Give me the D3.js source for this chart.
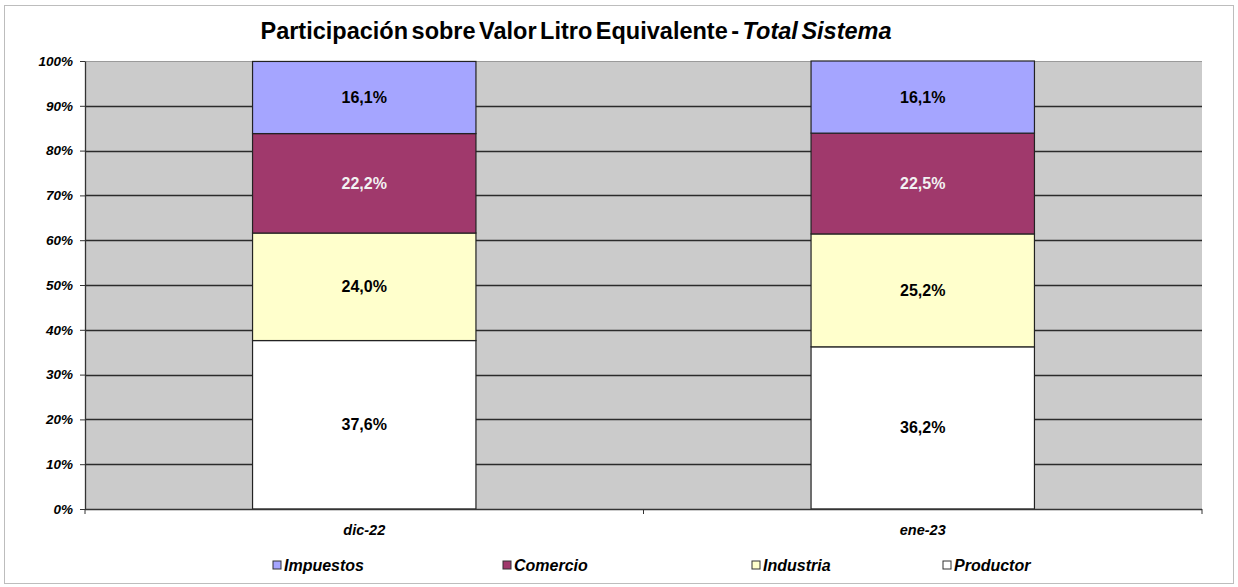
<!DOCTYPE html>
<html>
<head>
<meta charset="utf-8">
<script src="https://cdn.jsdelivr.net/npm/d3@7"></script>
<style>
  body { margin: 0; background: #fff; }
  text { font-family: "Liberation Sans", Arial, sans-serif; }
</style>
</head>
<body>
<div id="chart"></div>
<script>
// data
var categories = ["dic-22", "ene-23"];
var seriesNames = ["Productor", "Industria", "Comercio", "Impuestos"];
var productor = [37.6, 36.2];
var industria = [24.0, 25.2];
var comercio = [22.2, 22.5];
var impuestos = [16.1, 16.1];
var yTicks = [0, 10, 20, 30, 40, 50, 60, 70, 80, 90, 100];
var legendOrder = ["Impuestos", "Comercio", "Industria", "Productor"];

var colors = {Productor: "#ffffff", Industria: "#ffffcc", Comercio: "#a0396c", Impuestos: "#a5a5ff"};
var labelColors = {Productor: "#000", Industria: "#000", Comercio: "#f2f2f2", Impuestos: "#000"};

var W = 1238, H = 587;
var margin = {top: 61, right: 36, bottom: 78, left: 85},
    width = W - margin.left - margin.right,
    height = H - margin.top - margin.bottom;

var svg = d3.select("#chart").append("svg")
    .attr("width", W).attr("height", H);

// outer border
svg.append("rect")
  .attr("x", 4.5).attr("y", 5.5).attr("width", 1229).attr("height", 578)
  .attr("fill", "#fff").attr("stroke", "#bdbdbd").attr("stroke-width", 1);

// title
var title = svg.append("text")
  .attr("x", 576).attr("y", 39)
  .attr("text-anchor", "middle")
  .style("font-size", "23.5px").style("font-weight", "bold")
  .style("word-spacing", "-3px");
title.append("tspan").text("Participación sobre Valor Litro Equivalente - ");
title.append("tspan").style("font-style", "italic").text("Total Sistema");

var g = svg.append("g")
  .attr("transform", "translate(" + margin.left + "," + margin.top + ")");

var x = d3.scaleBand()
  .domain(categories)
  .range([0, width])
  .paddingInner(0.6)
  .paddingOuter(0.3);

var y = d3.scaleLinear()
  .domain([0, 100])
  .range([height, 0]);

// plot background
g.append("rect")
  .attr("width", width).attr("height", height)
  .attr("fill", "#cbcbcb");

// gridlines
g.selectAll(".grid")
  .data(yTicks.filter(function(d) { return d > 0 && d < 100; }))
  .enter().append("line")
    .attr("x1", 0).attr("x2", width)
    .attr("y1", function(d) { return Math.round(y(d)) + 0.5; })
    .attr("y2", function(d) { return Math.round(y(d)) + 0.5; })
    .attr("stroke", "#2b2b2b").attr("stroke-width", 1.6);
g.append("line")
  .attr("x1", 0).attr("x2", width)
  .attr("y1", y(100) + 0.5).attr("y2", y(100) + 0.5)
  .attr("stroke", "#9a9a9a").attr("stroke-width", 1);

// stack
var rows = categories.map(function(c, i) {
  return {name: c, Productor: productor[i], Industria: industria[i], Comercio: comercio[i], Impuestos: impuestos[i]};
});
var stacked = d3.stack().keys(seriesNames)(rows);

var layers = g.append("g").selectAll("g")
  .data(stacked)
  .enter().append("g")
    .attr("fill", function(d) { return colors[d.key]; });

layers.selectAll("rect")
  .data(function(d) { return d; })
  .enter().append("rect")
    .attr("x", function(d) { return x(d.data.name); })
    .attr("y", function(d) { return y(Math.min(d[1], 100)); })
    .attr("height", function(d) { return y(d[0]) - y(Math.min(d[1], 100)); })
    .attr("width", x.bandwidth())
    .attr("stroke", "#222").attr("stroke-width", 1.2);

layers.selectAll("text")
  .data(function(d) { return d.map(function(p) { p.key = d.key; return p; }); })
  .enter().append("text")
    .attr("x", function(d) { return x(d.data.name) + x.bandwidth() / 2; })
    .attr("y", function(d) { return (y(d[0]) + y(Math.min(d[1], 100))) / 2 + 5.5; })
    .attr("text-anchor", "middle")
    .attr("fill", function(d) { return labelColors[d.key]; })
    .style("font-size", "16px").style("font-weight", "bold")
    .text(function(d) { return d3.format(".1f")(d.data[d.key]).replace(".", ",") + "%"; });

// y axis
var yAxis = g.append("g")
  .call(d3.axisLeft(y).tickValues(yTicks).tickSize(5).tickSizeOuter(0)
    .tickFormat(function(d) { return d + "%"; }));
yAxis.select(".domain").attr("stroke", "#333").attr("stroke-width", 1.3);
yAxis.selectAll(".tick line").attr("stroke", "#333");
yAxis.selectAll(".tick text")
  .attr("x", -12)
  .style("font-size", "13.5px").style("font-weight", "bold").style("font-style", "italic")
  .style("font-family", "'Liberation Sans', Arial, sans-serif").attr("fill", "#000");

// x axis
var xAxis = g.append("g")
  .attr("transform", "translate(0," + height + ")")
  .call(d3.axisBottom(x).tickSize(0).tickPadding(16));
xAxis.select(".domain").remove();
xAxis.append("line").attr("x1", 0).attr("x2", width).attr("y1", 0.5).attr("y2", 0.5)
  .attr("stroke", "#333").attr("stroke-width", 1.4);
xAxis.selectAll(".sep")
  .data([0, x.step(), width])
  .enter().append("line")
    .attr("x1", function(d) { return d; }).attr("x2", function(d) { return d; })
    .attr("y1", 0).attr("y2", 5).attr("stroke", "#333");
xAxis.selectAll(".tick text")
  .style("font-size", "14.5px").style("font-weight", "bold").style("font-style", "italic")
  .style("font-family", "'Liberation Sans', Arial, sans-serif").attr("fill", "#000");

// legend
var legendX = [273, 503, 752, 943];
var legend = svg.append("g").selectAll("g")
  .data(legendOrder)
  .enter().append("g")
    .attr("transform", function(d, i) { return "translate(" + legendX[i] + ",561)"; });
legend.append("rect")
  .attr("width", 8).attr("height", 8)
  .attr("fill", function(d) { return colors[d]; })
  .attr("stroke", "#333").attr("stroke-width", 1);
legend.append("text")
  .attr("x", 11).attr("y", 9.5)
  .style("font-size", "16px").style("font-weight", "bold").style("font-style", "italic")
  .text(function(d) { return d; });
</script>
</body>
</html>
